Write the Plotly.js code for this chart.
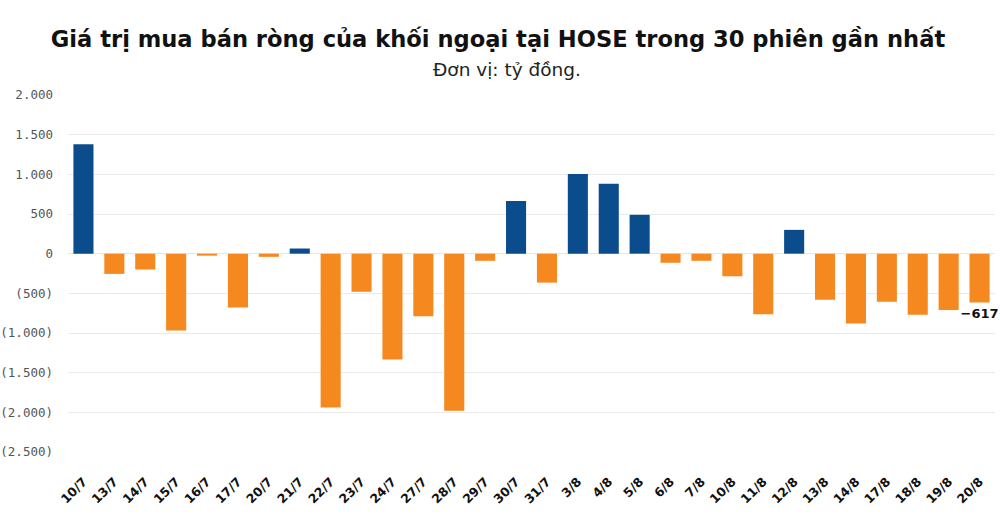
<!DOCTYPE html>
<html>
<head>
<meta charset="utf-8">
<script src="https://cdn.plot.ly/plotly-3.0.1.min.js"></script>
<style>
  html, body { margin: 0; padding: 0; background: #fff; }
  #graph { width: 1000px; height: 521px; }
</style>
</head>
<body>
<div id="graph"></div>
<script>
// phien giao dich (ngay/thang)
var sessions = ["10/7", "13/7", "14/7", "15/7", "16/7", "17/7", "20/7", "21/7", "22/7", "23/7",
                "24/7", "27/7", "28/7", "29/7", "30/7", "31/7", "3/8", "4/8", "5/8", "6/8",
                "7/8", "10/8", "11/8", "12/8", "13/8", "14/8", "17/8", "18/8", "19/8", "20/8"];
// gia tri mua ban rong, ty dong
var netValues = [1380, -255, -200, -970, -25, -680, -40, 65, -1940, -480,
                 -1335, -790, -1980, -90, 665, -365, 1005, 880, 490, -115,
                 -90, -285, -765, 300, -580, -880, -605, -770, -710, -617];
var yTickVals = [2000, 1500, 1000, 500, 0, -500, -1000, -1500, -2000, -2500];
var yTickText = ["2.000", "1.500", "1.000", "500", "0", "(500)", "(1.000)", "(1.500)", "(2.000)", "(2.500)"];

var BLUE = "#0b4c8c";
var ORANGE = "#f5891f";

function plotNetFlow() {
  var last = netValues.length - 1;
  var colors = netValues.map(function (v) { return v >= 0 ? BLUE : ORANGE; });
  var labels = netValues.map(function (v, i) {
    return i === last ? "\u2212" + Math.abs(v) : "";
  });

  var bars = {
    x: sessions,
    y: netValues,
    type: "bar",
    marker: { color: colors },
    text: labels,
    textposition: "outside",
    constraintext: "none",
    textfont: { family: "DejaVu Sans, sans-serif", size: 13, color: "#111", weight: "bold" },
    cliponaxis: false,
    hoverinfo: "x+y"
  };

  var layout = {
    width: 1000,
    height: 521,
    margin: { l: 68, r: 5, t: 95, b: 69 },
    paper_bgcolor: "#fff",
    plot_bgcolor: "#fff",
    showlegend: false,
    bargap: 0.35,
    title: {
      text: "<b>Giá trị mua bán ròng của khối ngoại tại HOSE trong 30 phiên gần nhất</b>",
      font: { family: "DejaVu Sans, Verdana, sans-serif", size: 22.6, color: "#111" },
      x: 0.498,
      xref: "container",
      xanchor: "center",
      y: 0.925,
      yanchor: "middle"
    },
    annotations: [{
      text: "Đơn vị: tỷ đồng.",
      xref: "paper", yref: "paper",
      x: 0.474, y: 1.0,
      yshift: 13,
      xanchor: "center", yanchor: "bottom",
      showarrow: false,
      font: { family: "DejaVu Sans, Verdana, sans-serif", size: 18.5, color: "#222" }
    }],
    xaxis: {
      type: "category",
      tickangle: -45,
      tickfont: { family: "DejaVu Sans, sans-serif", size: 12.5, color: "#111", weight: "bold" },
      showgrid: false,
      showline: false,
      ticks: "",
      ticklabelstandoff: 19,
      automargin: false
    },
    yaxis: {
      range: [-2500, 2000],
      tickvals: yTickVals,
      ticktext: yTickText,
      tickfont: { family: "DejaVu Sans Mono, monospace", size: 12.5, color: "#555" },
      gridcolor: "#ebebeb",
      gridwidth: 1,
      zeroline: true,
      zerolinecolor: "#e6e6e6",
      zerolinewidth: 1,
      showline: false,
      ticks: "",
      ticklabelstandoff: 14,
      automargin: false
    }
  };

  Plotly.newPlot("graph", [bars], layout, { displayModeBar: false, staticPlot: true });
}

plotNetFlow();
</script>
</body>
</html>
